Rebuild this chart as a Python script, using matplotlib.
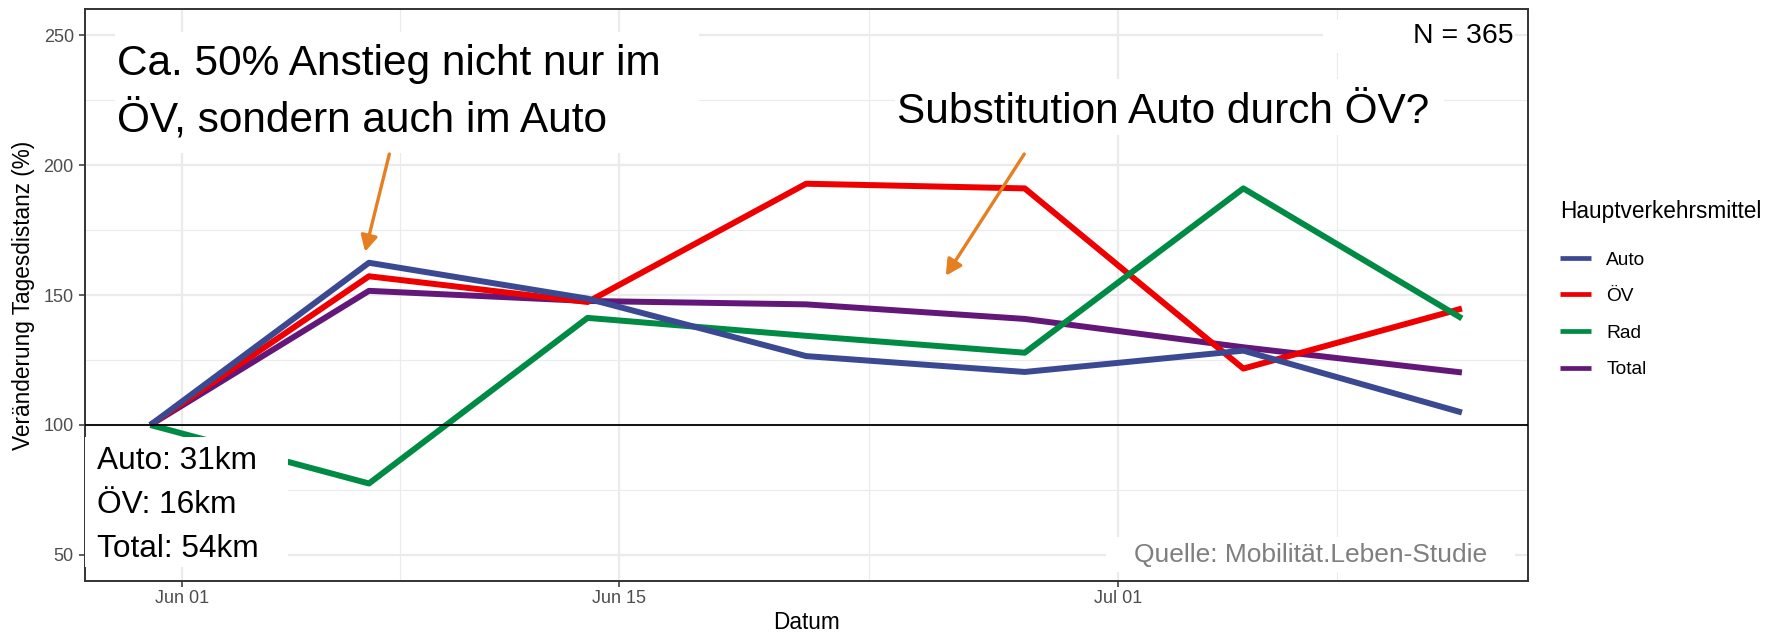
import pandas as pd
import matplotlib
matplotlib.use("Agg")
import matplotlib.pyplot as plt
import matplotlib.dates as mdates
from matplotlib.patches import Rectangle, FancyArrowPatch
from matplotlib.lines import Line2D

plt.rcParams['font.family'] = ['Liberation Sans', 'DejaVu Sans']

# Wochenwerte, erste Woche = 100 %
datum = pd.to_datetime(["2022-05-31", "2022-06-07", "2022-06-14", "2022-06-21",
                        "2022-06-28", "2022-07-05", "2022-07-12"])
auto = [100, 162.4, 148.6, 126.5, 120.4, 128.6, 104.8]
oev = [100, 157.2, 147.3, 192.8, 191.0, 121.7, 144.8]
rad = [100, 77.5, 141.2, 134.3, 127.8, 191.0, 141.0]
total = [100, 151.6, 147.7, 146.4, 140.8, 129.9, 120.2]

modi = ["Auto", "ÖV", "Rad", "Total"]
farben = ["#3B4992", "#EE0000", "#008B45", "#631879"]

x_ticks = pd.to_datetime(["2022-06-01", "2022-06-15", "2022-07-01"])
x_minor = pd.to_datetime(["2022-06-08", "2022-06-23", "2022-07-08"])
y_ticks = [50, 100, 150, 200, 250]
y_minor = [75, 125, 175, 225]

fig = plt.figure(figsize=(17.7, 6.34), dpi=100)
ax = fig.add_axes([0.0479, 0.0836, 0.8151, 0.9022])

serien = {"Auto": auto, "ÖV": oev, "Rad": rad, "Total": total}
handles = {}
# Reihenfolge beim Zeichnen: Total unten, Auto oben
for name in ["Total", "ÖV", "Rad", "Auto"]:
    farbe = farben[modi.index(name)]
    ax.plot(datum, serien[name], color=farbe, lw=4.3,
            solid_capstyle='butt', solid_joinstyle='round', zorder=3)
    handles[name] = Line2D([], [], color=farbe, lw=3.4, solid_capstyle='butt')

ax.axhline(100, color='black', lw=1.3, zorder=3.5)

# Achsen wie ggplot (5 % Erweiterung)
spanne = datum.max() - datum.min()
ax.set_xlim(datum.min() - 0.05 * spanne, datum.max() + 0.05 * spanne)
ax.set_ylim(40, 260)
ax.set_xticks(x_ticks)
ax.set_xticks(x_minor, minor=True)
ax.xaxis.set_major_formatter(mdates.DateFormatter("%b %d"))
ax.set_yticks(y_ticks)
ax.set_yticks(y_minor, minor=True)

ax.grid(which='major', color='#EBEBEB', lw=1.6, zorder=0)
ax.grid(which='minor', color='#EBEBEB', lw=0.8, zorder=0)
ax.set_axisbelow(True)
ax.tick_params(which='major', length=4, width=1.1, color='#333333',
               labelcolor='#4D4D4D', labelsize=13)
ax.tick_params(axis='x', pad=2.5)
ax.tick_params(axis='y', pad=3.9)
ax.tick_params(which='minor', length=0)
for s in ax.spines.values():
    s.set_color('#333333')
    s.set_linewidth(1.4)

ax.set_xlabel("Datum", fontsize=16.3, labelpad=3)
ax.set_ylabel("Veränderung Tagesdistanz (%)", fontsize=16.3, labelpad=6)

# weisse Kaesten hinter den Beschriftungen
kaesten = [(0.021, 0.748, 0.405, 0.212),
           (0.5616, 0.779, 0.3804, 0.098),
           (0.0, 0.0245, 0.141, 0.2272),
           (0.858, 0.923, 0.133, 0.058),
           (0.708, 0.016, 0.283, 0.061)]
for x0, y0, w, h in kaesten:
    ax.add_patch(Rectangle((x0, y0), w, h, transform=ax.transAxes,
                           facecolor='white', edgecolor='none', zorder=4))

gross = 30.5
ax.text(0.0224, 0.8846, "Ca. 50% Anstieg nicht nur im", transform=ax.transAxes,
        fontsize=gross, va='baseline', ha='left', zorder=5)
ax.text(0.0224, 0.785, "ÖV, sondern auch im Auto", transform=ax.transAxes,
        fontsize=gross, va='baseline', ha='left', zorder=5)
ax.text(0.563, 0.8002, "Substitution Auto durch ÖV?", transform=ax.transAxes,
        fontsize=gross, va='baseline', ha='left', zorder=5)

for yy, txt in zip([0.1958, 0.1189, 0.042], ["Auto: 31km", "ÖV: 16km", "Total: 54km"]):
    ax.text(0.0085, yy, txt, transform=ax.transAxes, fontsize=22.8,
            va='baseline', ha='left', zorder=5)

ax.text(0.9904, 0.9406, "N = 365", transform=ax.transAxes, fontsize=20.5,
        va='baseline', ha='right', zorder=5)
ax.text(0.972, 0.0337, "Quelle: Mobilität.Leben-Studie", transform=ax.transAxes,
        fontsize=19, color='#7F7F7F', va='baseline', ha='right', zorder=5)

# Pfeile
for (x1, y1), (x2, y2) in [((0.2111, 0.7465), (0.1943, 0.5757)),
                           ((0.6512, 0.7465), (0.5968, 0.5337))]:
    ax.add_patch(FancyArrowPatch((x1, y1), (x2, y2), transform=ax.transAxes,
                                 arrowstyle='-|>,head_length=9.5,head_width=5',
                                 mutation_scale=1, color='#E67E22', lw=2.4,
                                 shrinkA=0, shrinkB=0, zorder=6))

leg = ax.legend([handles[m] for m in modi], modi, title="Hauptverkehrsmittel",
                loc='upper left', bbox_to_anchor=(0.8815, 0.684),
                bbox_transform=fig.transFigure, frameon=False, fontsize=13.8,
                title_fontsize=16.3, handlelength=1.6, handletextpad=0.8,
                labelspacing=1.0, borderpad=0, borderaxespad=0, alignment='left')
leg._legend_box.sep = 20

fig.savefig("out.png", dpi=100, facecolor='white')
